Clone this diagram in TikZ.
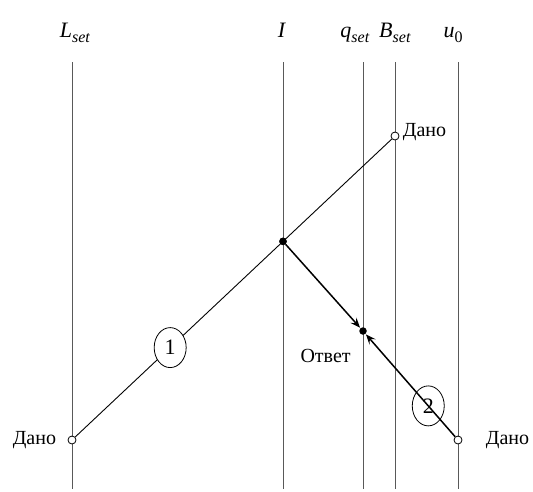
\documentclass[tikz,border=0pt]{standalone}
\usepackage{fontspec}
\setmainfont{Liberation Serif}
\usetikzlibrary{shapes.geometric, arrows.meta, positioning}

% italic symbol with a lowered subscript
\newcommand{\axsym}[2]{\textit{#1}{\fontsize{16}{17}\selectfont\raisebox{-5pt}{#2}}}

\begin{document}
\begin{tikzpicture}[
  x=1pt, y=-1pt,
  axis/.style={draw=gray!70!black, line width=0.9pt},
  axlabel/.style={font=\fontsize{22}{24}\selectfont, anchor=base},
  given/.style={circle, draw, fill=white, line width=0.8pt, inner sep=0pt, minimum size=8pt},
  hit/.style={circle, fill=black, inner sep=0pt, minimum size=7.5pt},
  note/.style={font=\fontsize{20}{22}\selectfont},
  num/.style={ellipse, draw, line width=0.8pt, inner sep=0pt,
    minimum width=32pt, minimum height=40pt, font=\fontsize{22}{24}\selectfont},
  ray/.style={line width=0.9pt},
  arr/.style={-{Stealth[length=10pt, width=8pt, inset=4pt]}, line width=1.5pt, shorten >=0.5pt},
]
  \useasboundingbox (0,0) rectangle (533,491);

  % Axes
  \foreach \nm/\x/\lx/\txt in {
      L/72/75/{\axsym{L}{\textit{set}}},
      I/283/282/{\textit{I}},
      q/363/355/{\axsym{q}{\textit{set}}},
      B/395/395/{\axsym{B}{\textit{set}}},
      u/458/453/{\axsym{u}{0}}} {
    \node[axlabel] (lab\nm) at (\lx,37) {\txt};
    \coordinate (\nm top) at (\x,62);
    \coordinate (\nm bot) at (\x,489);
    \draw[axis] (\nm top) -- (\nm bot);
  }

  % Points
  \node[given] (given1) at (72,440) {};
  \node[given] (given2) at (395,136) {};
  \node[given] (given3) at (458,440) {};
  \node[hit] (cross) at (283,241.4) {};
  \node[hit] (ans) at (363,331) {};

  % Rays
  \draw[ray] (given1) -- (given2) node[num, fill=white, pos=0.3] (n1) {1};
  \draw[arr] (cross) -- (ans);
  \draw[arr] (given3) -- (ans) node[num, pos=0.3] (n2) {2};
  \node[hit] at (cross) {};

  % Labels
  \node[note, left=8pt of given1] (t1) {Дано};
  \node[note, right=0pt of given2, yshift=4pt] (t2) {Дано};
  \node[note, right=20pt of given3] (t3) {Дано};
  \node[note, below left=12pt and 6pt of ans] (t4) {Ответ};
\end{tikzpicture}
\end{document}
